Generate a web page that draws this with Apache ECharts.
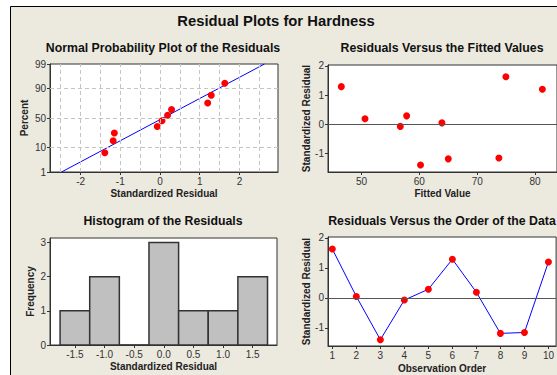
<!DOCTYPE html>
<html>
<head>
<meta charset="utf-8">
<title>Residual Plots for Hardness</title>
<script src="https://cdn.jsdelivr.net/npm/echarts@6/dist/echarts.min.js"></script>
<style>
  html, body { margin: 0; padding: 0; background: #ffffff; }
  #chart { width: 557px; height: 375px; }
</style>
</head>
<body>
<div id="chart"></div>
<script>
// ---- data ----
const obsOrder = [1, 2, 3, 4, 5, 6, 7, 8, 9, 10];
const stdResid = [1.63, 0.05, -1.39, -0.07, 0.29, 1.29, 0.19, -1.18, -1.15, 1.20];
const fittedValues = [74.96, 63.9, 60.2, 56.7, 57.8, 46.5, 50.6, 65.0, 73.75, 81.27];

// normal probability plot: plotting positions (percent) of the sorted residuals
const probPercent = [6.7, 16.3, 26.0, 35.6, 45.2, 54.8, 64.4, 74.0, 83.7, 93.3];
const fitLineResid = [-2.48, 2.63];
const fitLinePercent = [1, 99];

// histogram
const histBins = [-1.5, -1.0, -0.5, 0.0, 0.5, 1.0, 1.5];
const histCounts = [1, 2, 0, 3, 1, 1, 2];
const binWidth = 0.5;

// ticks
const probYTicks = [1, 10, 50, 90, 99];
const probYGrid = [10, 50, 90];
const probXTicks = [-2, -1, 0, 1, 2];
const probXGrid = [-2.5, -2, -1.5, -1, -0.5, 0, 0.5, 1, 1.5, 2, 2.5];
const fittedTicks = [50, 60, 70, 80];
const residTicks = [-1, 0, 1, 2];
const histYTicks = [0, 1, 2, 3];

// ---- helpers ----
// inverse of the standard normal CDF (Acklam), used for the probability axis
function probit(p) {
  const a = [-3.969683028665376e+01, 2.209460984245205e+02, -2.759285104469687e+02, 1.383577518672690e+02, -3.066479806614716e+01, 2.506628277459239e+00];
  const b = [-5.447609879822406e+01, 1.615858368580409e+02, -1.556989798598866e+02, 6.680131188771972e+01, -1.328068155288572e+01];
  const c = [-7.784894002430293e-03, -3.223964580411365e-01, -2.400758277161838e+00, -2.549732539343734e+00, 4.374664141464968e+00, 2.938163982698783e+00];
  const d = [7.784695709041462e-03, 3.224671290700398e-01, 2.445134137142996e+00, 3.754408661907416e+00];
  const pl = 0.02425, ph = 1 - pl;
  let q, r;
  if (p < pl) {
    q = Math.sqrt(-2 * Math.log(p));
    return (((((c[0]*q+c[1])*q+c[2])*q+c[3])*q+c[4])*q+c[5]) / ((((d[0]*q+d[1])*q+d[2])*q+d[3])*q+1);
  }
  if (p > ph) {
    q = Math.sqrt(-2 * Math.log(1 - p));
    return -(((((c[0]*q+c[1])*q+c[2])*q+c[3])*q+c[4])*q+c[5]) / ((((d[0]*q+d[1])*q+d[2])*q+d[3])*q+1);
  }
  q = p - 0.5; r = q * q;
  return (((((a[0]*r+a[1])*r+a[2])*r+a[3])*r+a[4])*r+a[5])*q / (((((b[0]*r+b[1])*r+b[2])*r+b[3])*r+b[4])*r+1);
}
const pz = pct => probit(pct / 100);

const FONT = '"Liberation Sans", Arial, sans-serif';
const BG = '#ece9df';
const INK = '#222';

const sortedResid = stdResid.slice().sort((a, b) => a - b);

function baseAxis(extra) {
  return Object.assign({
    type: 'value',
    scale: true,
    axisLine: { show: true, onZero: false, lineStyle: { color: '#333', width: 1 } },
    splitLine: { show: false },
    nameLocation: 'middle',
    nameTextStyle: { fontFamily: FONT, fontSize: 10, fontWeight: 'bold', color: INK }
  }, extra);
}
function ticks(vals, fmt) {
  return {
    axisTick: { show: true, length: 3, customValues: vals, lineStyle: { color: '#333' } },
    axisLabel: { color: '#333', fontFamily: FONT, fontSize: 10, margin: 4, customValues: vals, formatter: fmt }
  };
}
function mergeAxis(extra, t) {
  const ax = baseAxis(extra);
  ax.axisTick = t.axisTick;
  ax.axisLabel = t.axisLabel;
  return ax;
}

const gridStyle = { show: true, backgroundColor: '#fff', borderColor: '#333', borderWidth: 1 };
const dot = { color: '#ff0000', opacity: 1 };

const option = {
  backgroundColor: '#ffffff',
  animation: false,
  graphic: [
    { type: 'rect', z: -100, shape: { x: 10.5, y: 6.5, width: 620, height: 420 },
      style: { fill: BG, stroke: '#000', lineWidth: 1 } },
    { type: 'text', z: 100, style: { x: 276, y: 21, text: 'Residual Plots for Hardness', align: 'center', verticalAlign: 'middle',
      font: 'bold 14.8px ' + FONT, fill: '#111' } },
    { type: 'text', z: 100, style: { x: 163, y: 47.5, text: 'Normal Probability Plot of the Residuals', align: 'center', verticalAlign: 'middle',
      font: 'bold 12.3px ' + FONT, fill: '#111' } },
    { type: 'text', z: 100, style: { x: 442, y: 47.5, text: 'Residuals Versus the Fitted Values', align: 'center', verticalAlign: 'middle',
      font: 'bold 12.3px ' + FONT, fill: '#111' } },
    { type: 'text', z: 100, style: { x: 163, y: 221, text: 'Histogram of the Residuals', align: 'center', verticalAlign: 'middle',
      font: 'bold 12.3px ' + FONT, fill: '#111' } },
    { type: 'text', z: 100, style: { x: 442, y: 221, text: 'Residuals Versus the Order of the Data', align: 'center', verticalAlign: 'middle',
      font: 'bold 12.3px ' + FONT, fill: '#111' } }
  ],
  grid: [
    Object.assign({ left: 50, top: 64, width: 228, height: 108 }, gridStyle),
    Object.assign({ left: 328, top: 65, width: 230, height: 107 }, gridStyle),
    Object.assign({ left: 50, top: 238, width: 227, height: 107 }, gridStyle),
    Object.assign({ left: 328, top: 237, width: 230, height: 109 }, gridStyle)
  ],
  xAxis: [
    mergeAxis({ gridIndex: 0, min: -2.77, max: 2.97, name: 'Standardized Residual', nameGap: 16 },
      ticks(probXTicks, v => String(v))),
    mergeAxis({ gridIndex: 1, min: 44.2, max: 83.8, name: 'Fitted Value', nameGap: 16 },
      ticks(fittedTicks, v => String(v))),
    mergeAxis({ gridIndex: 2, min: -1.92, max: 1.91, name: 'Standardized Residual', nameGap: 16 },
      ticks(histBins, v => v.toFixed(1))),
    mergeAxis({ gridIndex: 3, min: 0.82, max: 10.32, name: 'Observation Order', nameGap: 17 },
      ticks(obsOrder, v => String(v)))
  ],
  yAxis: [
    mergeAxis({ gridIndex: 0, min: pz(1), max: pz(99), name: 'Percent', nameGap: 21 },
      ticks(probYTicks.map(pz), v => {
        let best = probYTicks[0];
        probYTicks.forEach(t => { if (Math.abs(pz(t) - v) < Math.abs(pz(best) - v)) best = t; });
        return String(best);
      })),
    mergeAxis({ gridIndex: 1, min: -1.63, max: 2.03, name: 'Standardized Residual', nameGap: 17 },
      ticks(residTicks, v => String(v))),
    mergeAxis({ gridIndex: 2, min: 0, max: 3.13, name: 'Frequency', nameGap: 15 },
      ticks(histYTicks, v => String(v))),
    mergeAxis({ gridIndex: 3, min: -1.6, max: 2.03, name: 'Standardized Residual', nameGap: 17 },
      ticks(residTicks, v => String(v)))
  ],
  series: [
    // dashed reference grid of the probability plot
    {
      type: 'line', xAxisIndex: 0, yAxisIndex: 0, data: [], z: 1, silent: true,
      markLine: {
        silent: true, symbol: 'none', label: { show: false }, animation: false,
        lineStyle: { color: '#c4c4c4', type: [4, 3], width: 1 },
        data: probXGrid.map(v => ({ xAxis: v })).concat(probYGrid.map(p => ({ yAxis: pz(p) })))
      }
    },
    // fitted normal line
    {
      type: 'line', xAxisIndex: 0, yAxisIndex: 0, z: 2, symbol: 'none', silent: true,
      lineStyle: { color: '#0000ff', width: 1 },
      data: fitLineResid.map((x, i) => [x, pz(fitLinePercent[i])])
    },
    // residual points on the probability scale
    {
      type: 'scatter', xAxisIndex: 0, yAxisIndex: 0, z: 3, symbolSize: 7,
      itemStyle: dot,
      data: sortedResid.map((r, i) => [r, pz(probPercent[i])])
    },
    // residuals versus fitted values
    {
      type: 'scatter', xAxisIndex: 1, yAxisIndex: 1, z: 3, symbolSize: 7,
      itemStyle: dot,
      data: fittedValues.map((f, i) => [f, stdResid[i]]),
      markLine: {
        silent: true, symbol: 'none', label: { show: false }, animation: false,
        lineStyle: { color: '#555', type: 'solid', width: 1 },
        data: [{ yAxis: 0 }]
      }
    },
    // histogram
    {
      type: 'custom', xAxisIndex: 2, yAxisIndex: 2, z: 2,
      encode: { x: 0, y: 1 },
      data: histBins.map((b, i) => [b, histCounts[i]]),
      renderItem: function (params, api) {
        const c = api.value(0), n = api.value(1);
        const p0 = api.coord([c - binWidth / 2, n]);
        const p1 = api.coord([c + binWidth / 2, 0]);
        return {
          type: 'rect',
          shape: { x: p0[0], y: p0[1], width: p1[0] - p0[0], height: p1[1] - p0[1] },
          style: { fill: '#c0c0c0', stroke: '#333', lineWidth: 1.5 }
        };
      }
    },
    // residuals versus observation order
    {
      type: 'line', xAxisIndex: 3, yAxisIndex: 3, z: 3, symbol: 'circle', symbolSize: 7, showSymbol: true,
      lineStyle: { color: '#0000ff', width: 1 },
      itemStyle: dot,
      data: obsOrder.map((o, i) => [o, stdResid[i]]),
      markLine: {
        silent: true, symbol: 'none', label: { show: false }, animation: false,
        lineStyle: { color: '#555', type: 'solid', width: 1 },
        data: [{ yAxis: 0 }]
      }
    }
  ]
};

const chart = echarts.init(document.getElementById('chart'), null, { renderer: 'svg' });
chart.setOption(option);
</script>
</body>
</html>
